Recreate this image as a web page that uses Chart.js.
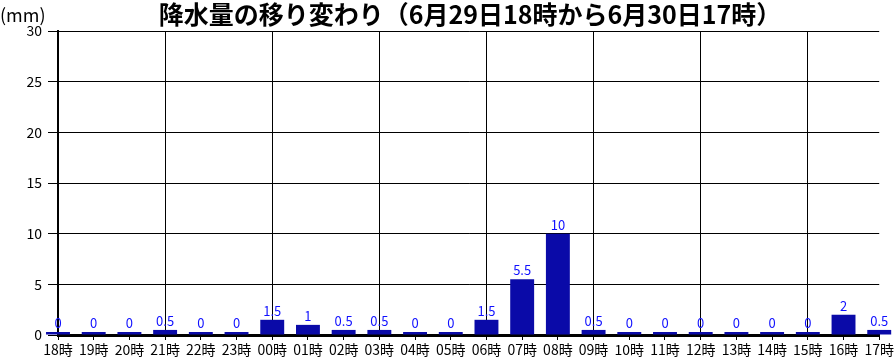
<!DOCTYPE html>
<html>
<head>
<meta charset="utf-8">
<script src="https://cdn.jsdelivr.net/npm/chart.js@4"></script>
<style>
  body { margin: 0; background: #fff; }
  canvas { display: block; }
</style>
</head>
<body>
<canvas id="rain" width="895" height="359"></canvas>
<script>
const hours = ['18時', '19時', '20時', '21時', '22時', '23時', '00時', '01時', '02時', '03時', '04時', '05時',
  '06時', '07時', '08時', '09時', '10時', '11時', '12時', '13時', '14時', '15時', '16時', '17時'];
const rainfall = [0, 0, 0, 0.5, 0, 0, 1.5, 1, 0.5, 0.5, 0, 0, 1.5, 5.5, 10, 0.5, 0, 0, 0, 0, 0, 0, 2, 0.5];
const yMax = 30;
const yStep = 5;
const titleText = '降水量の移り変わり（6月29日18時から6月30日17時）';
const unitText = '(mm)';

const FONT = '"Noto Sans CJK JP", "DejaVu Sans", sans-serif';

// value labels above each bar + title and unit text
const labelsPlugin = {
  id: 'rainLabels',
  afterDatasetsDraw(chart) {
    const ctx = chart.ctx;
    const meta = chart.getDatasetMeta(0);
    ctx.save();
    ctx.fillStyle = '#1010ff';
    ctx.font = '13px ' + FONT;
    ctx.textAlign = 'center';
    ctx.textBaseline = 'alphabetic';
    meta.data.forEach((bar, i) => {
      const top = Math.min(bar.y, bar.base);
      ctx.fillText(String(rainfall[i]), bar.x, top - 4);
    });
    ctx.restore();
  },
  afterDraw(chart) {
    const ctx = chart.ctx;
    ctx.save();
    ctx.fillStyle = '#000';
    ctx.textBaseline = 'middle';
    ctx.font = 'bold 25px ' + FONT;
    ctx.textAlign = 'center';
    ctx.fillText(titleText, 470, 14);
    ctx.font = '18px ' + FONT;
    ctx.textAlign = 'left';
    ctx.fillText(unitText, 0, 15);
    ctx.restore();
  }
};

new Chart(document.getElementById('rain'), {
  type: 'bar',
  data: {
    labels: hours,
    datasets: [{
      data: rainfall,
      backgroundColor: '#0a0aa8',
      borderWidth: 0,
      barPercentage: 0.67,
      categoryPercentage: 1,
      minBarLength: 3,
      clip: false
    }]
  },
  options: {
    responsive: false,
    animation: false,
    layout: { padding: { left: 0, top: 31, right: 15, bottom: 0 } },
    plugins: {
      legend: { display: false },
      title: { display: false },
      tooltip: { enabled: false }
    },
    scales: {
      x: {
        offset: false,
        afterFit(scale) { scale.height = 24; },
        grid: {
          offset: false,
          color: (c) => (c.index % 3 === 0 ? '#000' : 'rgba(0,0,0,0)'),
          tickColor: '#000',
          tickLength: 5,
          lineWidth: 1
        },
        border: { color: '#000', width: 3 },
        ticks: {
          color: '#000',
          font: { family: FONT, size: 14 },
          padding: 1,
          maxRotation: 0,
          autoSkip: false
        }
      },
      y: {
        min: 0,
        max: yMax,
        afterFit(scale) { scale.width = 58; },
        grid: {
          color: '#000',
          tickColor: '#000',
          tickLength: 10,
          lineWidth: 1
        },
        border: { color: '#000', width: 2 },
        ticks: {
          stepSize: yStep,
          color: '#000',
          font: { family: FONT, size: 14 },
          padding: 6
        }
      }
    }
  },
  plugins: [labelsPlugin]
});
</script>
</body>
</html>
